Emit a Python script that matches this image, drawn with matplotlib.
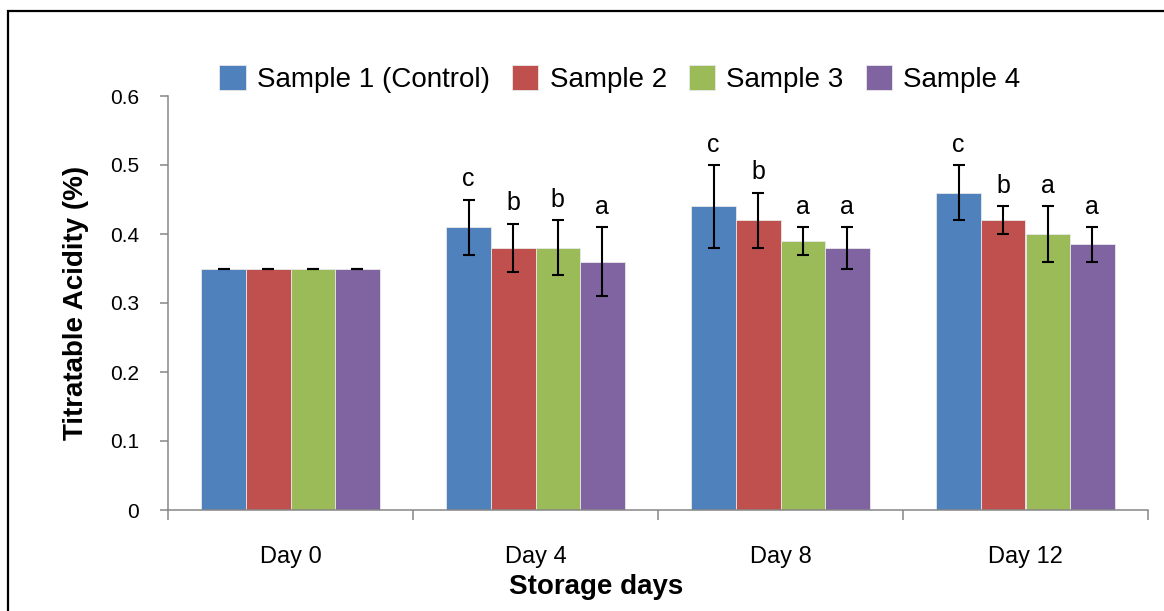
import numpy as np
import matplotlib.pyplot as plt
from matplotlib.patches import Rectangle

# data
days = ['Day 0', 'Day 4', 'Day 8', 'Day 12']
samples = ['Sample 1 (Control)', 'Sample 2', 'Sample 3', 'Sample 4']
colors = ['#4F81BD', '#C0504D', '#9BBB59', '#8064A2']

s1_mean = [0.35, 0.41, 0.44, 0.46]
s2_mean = [0.35, 0.38, 0.42, 0.42]
s3_mean = [0.35, 0.38, 0.39, 0.40]
s4_mean = [0.35, 0.36, 0.38, 0.385]

s1_err = [0.0, 0.04, 0.06, 0.04]
s2_err = [0.0, 0.035, 0.04, 0.02]
s3_err = [0.0, 0.04, 0.02, 0.04]
s4_err = [0.0, 0.05, 0.03, 0.025]

s1_letters = ['', 'c', 'c', 'c']
s2_letters = ['', 'b', 'b', 'b']
s3_letters = ['', 'b', 'a', 'a']
s4_letters = ['', 'a', 'a', 'a']

yticks = [0, 0.1, 0.2, 0.3, 0.4, 0.5, 0.6]
ytick_labels = ['0', '0.1', '0.2', '0.3', '0.4', '0.5', '0.6']

if __name__ == '__main__':
    plt.rcParams['font.family'] = ['Liberation Sans', 'DejaVu Sans']

    means = [s1_mean, s2_mean, s3_mean, s4_mean]
    errs = [s1_err, s2_err, s3_err, s4_err]
    letters = [s1_letters, s2_letters, s3_letters, s4_letters]

    fig = plt.figure(figsize=(11.64, 6.11), dpi=100)
    ax = fig.add_axes([168 / 1164, 1 - 510 / 611, (1148 - 168) / 1164, (510 - 96) / 611])

    # black frame around the chart area (runs off the right and bottom edges)
    fig.patches.append(Rectangle((8 / 1164, -0.02), 1.05, 1 - 11 / 611 + 0.02,
                                 transform=fig.transFigure, fill=False,
                                 edgecolor='black', linewidth=1.6, zorder=10))

    x = np.arange(len(days))
    width = 0.182
    for i in range(4):
        pos = x + (i - 1.5) * width
        ax.bar(pos, means[i], width, color=colors[i], edgecolor='#e8e8e8',
               linewidth=0.6, label=samples[i], zorder=2)
        ax.errorbar(pos, means[i], yerr=errs[i], fmt='none', ecolor='black',
                    elinewidth=1.5, capsize=4.5, capthick=1.5, zorder=3)
        for j in range(len(days)):
            if letters[i][j]:
                ax.text(pos[j], means[i][j] + errs[i][j] + 0.012, letters[i][j],
                        ha='center', va='bottom', fontsize=18)

    ax.set_xlim(-0.5, 3.5)
    ax.set_ylim(0, 0.6)
    ax.set_yticks(yticks)
    ax.set_yticklabels(ytick_labels)

    # boundary ticks without labels, day labels at category centres
    ax.set_xticks(np.arange(-0.5, 4, 1))
    ax.set_xticklabels([])
    ax.set_xticks(x, minor=True)
    ax.set_xticklabels(days, minor=True)
    ax.tick_params(axis='x', which='major', direction='out', length=7,
                   width=1.1, color='#868686')
    ax.tick_params(axis='x', which='minor', length=0, pad=26, labelsize=17)
    ax.tick_params(axis='y', direction='out', length=6, width=1.1,
                   color='#868686', pad=15, labelsize=15)

    for s in ['top', 'right']:
        ax.spines[s].set_visible(False)
    for s in ['left', 'bottom']:
        ax.spines[s].set_color('#868686')
        ax.spines[s].set_linewidth(1.1)

    ax.set_xlabel('Storage days', fontsize=20, fontweight='bold', labelpad=3)
    ax.xaxis.set_label_coords(0.437, -0.155)
    ax.set_ylabel('Titratable Acidity (%)', fontsize=20, fontweight='bold', labelpad=15)

    ax.legend(loc='center', bbox_to_anchor=(620 / 1164, 1 - 79 / 611),
              bbox_transform=fig.transFigure, ncol=4, frameon=False,
              fontsize=20, handlelength=0.95, handleheight=1.0,
              handletextpad=0.4, columnspacing=0.8)

    plt.savefig('out.png', dpi=100)
